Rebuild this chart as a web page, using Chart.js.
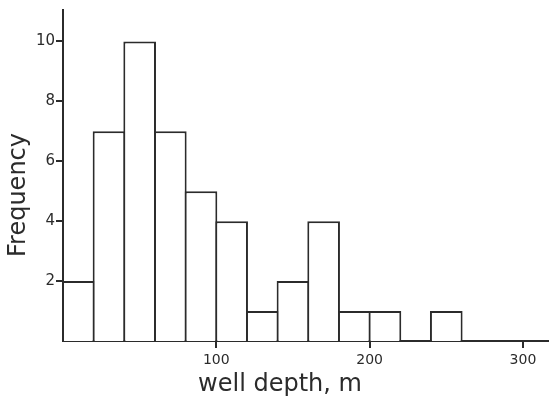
<!DOCTYPE html>
<html lang="en">
<head>
    <meta charset="UTF-8">
    <title>Well depth histogram</title>
    <script src="https://cdn.jsdelivr.net/npm/chart.js"></script>
    <style>
        body {
            margin: 0;
            padding: 0;
            background-color: #fff;
        }
        #wrap {
            width: 549px;
            height: 406px;
        }
    </style>
</head>
<body>
    <div id="wrap">
        <canvas id="histChart" width="549" height="406"></canvas>
    </div>
    <script>
        // bins of 20 m, centres and counts
        const binCentres = [10, 30, 50, 70, 90, 110, 130, 150, 170, 190, 210, 230, 250];
        const frequency = [2, 7, 10, 7, 5, 4, 1, 2, 4, 1, 1, 0, 1];
        const xTicks = [100, 200, 300];
        const yTicks = [2, 4, 6, 8, 10];
        const xTitle = 'well depth, m';
        const yTitle = 'Frequency';

        const ink = '#2b2b2b';
        const fontName = "'DejaVu Sans', sans-serif";

        // axis titles sit a bit off-centre in the original, so draw them here
        const axisTitles = {
            id: 'axisTitles',
            afterDraw(chart) {
                const c = chart.ctx;
                c.save();
                c.fillStyle = ink;
                c.font = '24px ' + fontName;
                c.textAlign = 'center';
                c.textBaseline = 'middle';
                c.fillText(xTitle, 280, 385);
                c.translate(19, 195);
                c.rotate(-Math.PI / 2);
                c.fillText(yTitle, 0, 0);
                c.restore();
            }
        };

        const ctx = document.getElementById('histChart').getContext('2d');
        new Chart(ctx, {
            type: 'bar',
            data: {
                datasets: [{
                    label: 'Frequency',
                    data: binCentres.map((c, i) => ({ x: c, y: frequency[i] })),
                    backgroundColor: '#fff',
                    borderColor: ink,
                    borderWidth: 2,
                    // slight overlap so shared edges are one line
                    barPercentage: 1.065,
                    categoryPercentage: 1
                }]
            },
            options: {
                responsive: false,
                animation: false,
                layout: {
                    padding: { top: 6, right: 0, left: 0, bottom: 0 }
                },
                plugins: {
                    legend: { display: false },
                    tooltip: { enabled: false }
                },
                scales: {
                    x: {
                        type: 'linear',
                        offset: false,
                        min: 0,
                        max: 317,
                        afterFit: s => { s.height = 65; },
                        afterBuildTicks: axis => {
                            axis.ticks = xTicks.map(v => ({ value: v }));
                        },
                        grid: {
                            display: true,
                            offset: false,
                            drawOnChartArea: false,
                            tickLength: 7,
                            color: ink,
                            lineWidth: 2
                        },
                        border: { color: ink, width: 2 },
                        ticks: {
                            color: ink,
                            font: { family: fontName, size: 14 },
                            padding: 4,
                            maxRotation: 0
                        }
                    },
                    y: {
                        min: 0,
                        max: 11.05,
                        afterFit: s => { s.width = 63; },
                        afterBuildTicks: axis => {
                            axis.ticks = yTicks.map(v => ({ value: v }));
                        },
                        grid: {
                            display: true,
                            drawOnChartArea: false,
                            tickLength: 7,
                            color: ink,
                            lineWidth: 2
                        },
                        border: { color: ink, width: 2 },
                        ticks: {
                            color: ink,
                            font: { family: fontName, size: 15 },
                            padding: 1
                        }
                    }
                }
            },
            plugins: [axisTitles]
        });
    </script>
</body>
</html>
